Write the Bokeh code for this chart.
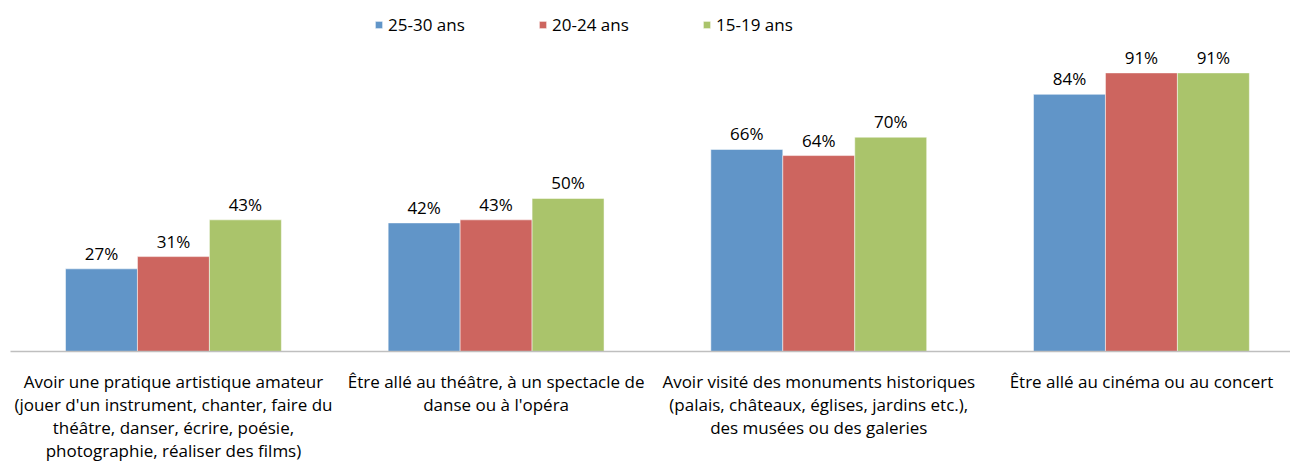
from bokeh.plotting import figure
from bokeh.models import ColumnDataSource, Range1d, FixedTicker, LabelSet, Legend, LegendItem
from bokeh.core.properties import value
from bokeh.embed import file_html
from bokeh.resources import INLINE
import numpy as np

categories = [
    "Avoir une pratique artistique amateur\n(jouer d'un instrument, chanter, faire du\nthéâtre, danser, écrire, poésie,\nphotographie, réaliser des films)",
    "Être allé au théâtre, à un spectacle de\ndanse ou à l'opéra",
    "Avoir visité des monuments historiques\n(palais, châteaux, églises, jardins etc.),\ndes musées ou des galeries",
    "Être allé au cinéma ou au concert",
]
series_names = ["25-30 ans", "20-24 ans", "15-19 ans"]
vals_25_30 = [27, 42, 66, 84]
vals_20_24 = [31, 43, 64, 91]
vals_15_19 = [43, 50, 70, 91]
colors = ["#6195C8", "#CD655F", "#AAC46B"]

FONT = "Open Sans"
FS = "17px"

p = figure(width=1290, height=464, output_backend="svg", toolbar_location=None,
           x_range=Range1d(-0.505, 3.462), y_range=Range1d(0, 114.65),
           min_border_left=10, min_border_right=0, min_border_top=0, min_border_bottom=110)
p.outline_line_color = None
p.grid.visible = False
p.yaxis.visible = False

xs = np.arange(len(categories))
bar_w = 0.223
offsets = [-bar_w, 0.0, bar_w]
items = []
for name, vals, off, col in zip(series_names, [vals_25_30, vals_20_24, vals_15_19], offsets, colors):
    src = ColumnDataSource(dict(x=xs + off, top=vals, lab=[f"{v}%" for v in vals]))
    r = p.vbar(x="x", top="top", width=bar_w, bottom=0, source=src,
               fill_color=col, line_color="white", line_width=0.5)
    items.append(LegendItem(label=name, renderers=[r]))
    p.add_layout(LabelSet(x="x", y="top", text="lab", source=src, y_offset=9,
                          text_align="center", text_baseline="alphabetic",
                          text_font=value(FONT), text_font_size=FS, text_color="black"))

legend = Legend(items=items, orientation="horizontal", location=(364, 315),
                glyph_width=9, glyph_height=9, label_standoff=5, label_width=150,
                spacing=0, padding=0, margin=0, border_line_color=None,
                background_fill_alpha=0, label_text_font=FONT, label_text_font_size=FS,
                label_height=24, label_text_color="black")
p.add_layout(legend)

ax = p.xaxis[0]
ax.ticker = FixedTicker(ticks=list(xs))
ax.major_label_overrides = {int(i): c for i, c in enumerate(categories)}
ax.major_tick_line_color = None
ax.minor_tick_line_color = None
ax.axis_line_color = "#BFBFBF"
ax.axis_line_width = 1.5
ax.major_label_text_font = FONT
ax.major_label_text_font_size = FS
ax.major_label_text_color = "black"
ax.major_label_text_line_height = 1.0
ax.major_label_standoff = 12

open("out.html", "w").write(file_html(p, INLINE))
